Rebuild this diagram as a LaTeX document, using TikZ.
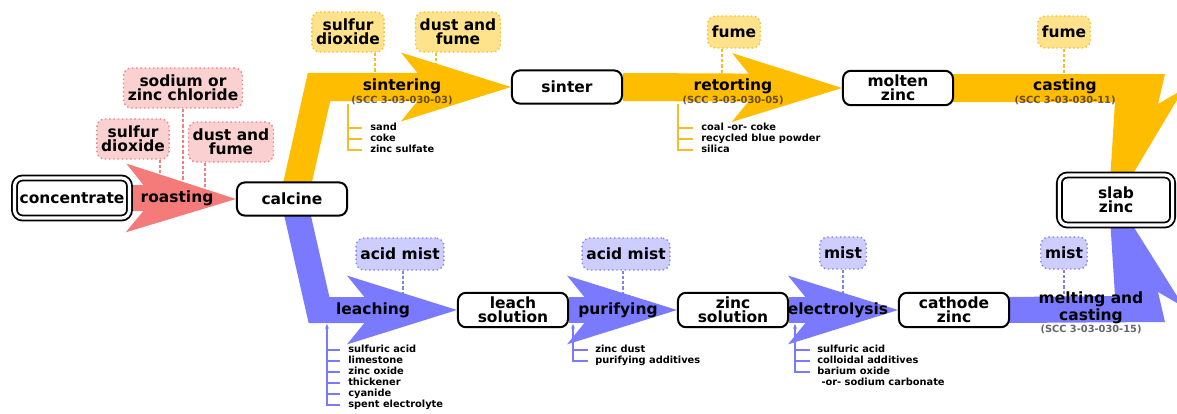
\documentclass[tikz,border=0pt]{standalone}
\usepackage{fontspec}
\setmainfont{DejaVu Sans}
\usepackage{tikz}
\usetikzlibrary{calc}
\usetikzlibrary{positioning}
\usetikzlibrary{arrows.meta}
\usetikzlibrary{backgrounds}
\usepackage{xcolor}
\definecolor{rflowc}{RGB}{245,122,122}
\definecolor{rfillc}{RGB}{250,208,208}
\definecolor{rlinec}{RGB}{238,130,130}
\definecolor{yflowc}{RGB}{255,189,0}
\definecolor{yfillc}{RGB}{255,226,140}
\definecolor{ylinec}{RGB}{245,190,40}
\definecolor{bflowc}{RGB}{122,122,255}
\definecolor{bfillc}{RGB}{205,205,255}
\definecolor{blinec}{RGB}{130,130,235}
\newcommand{\labfont}{\bfseries\fontsize{11}{10}\selectfont}
\newcommand{\listfont}{\bfseries\fontsize{7}{7.8}\selectfont}

\begin{document}
\begin{tikzpicture}[
		x=0.025cm, y=-0.025cm,
		box/.style = {rectangle, rounded corners=0.2cm, draw=black, fill=white, line width=0.05cm, minimum width=2.75cm, minimum height=0.83cm, inner sep=3pt, align=center, font=\labfont},
		dbox/.style = {box, double=white, double distance=0.08cm, line width=0.045cm},
		em/.style = {rectangle, rounded corners=0.2cm, dotted, line width=0.035cm, minimum height=0.8cm, inner xsep=3pt, inner ysep=5pt, align=center, font=\labfont},
		rem/.style = {em, draw=rlinec, fill=rfillc},
		yem/.style = {em, draw=ylinec, fill=yfillc},
		bem/.style = {em, draw=blinec, fill=bfillc},
		lab/.style = {font=\labfont, inner sep=0pt, align=center},
		scc/.style = {font=\listfont, inner sep=0pt, text=black, text opacity=0.6},
		lst/.style = {font=\listfont, inner sep=0pt, align=left, anchor=north west},
		rline/.style = {draw=rlinec, line width=0.05cm, dash pattern=on 0.08cm off 0.05cm},
		yline/.style = {draw=ylinec, line width=0.05cm, dash pattern=on 0.08cm off 0.05cm},
		bline/.style = {draw=blinec, line width=0.05cm, dash pattern=on 0.08cm off 0.05cm},
		yin/.style = {draw=ylinec, line width=0.03cm},
		bin/.style = {draw=bflowc, line width=0.03cm},
		rflow/.style = {draw=rflowc, line width=0.65cm, -{Stealth[length=2.75cm, width=1.72cm, inset=0.7cm, line width=0pt]}},
		yflow/.style = {draw=yflowc, line width=0.7cm, -{Stealth[length=2.75cm, width=1.72cm, inset=0.7cm, line width=0pt]}},
		bflow/.style = {draw=bflowc, line width=0.65cm, -{Stealth[length=2.75cm, width=1.72cm, inset=0.7cm, line width=0pt]}},
		]
		
		\useasboundingbox (0,0) rectangle (1177,414);
		
		% === === Nodes === ===
		\node[dbox, minimum width=2.875cm, minimum height=1cm]	(conc)	at	(72,198)	{concentrate};
		\node[box]	(calcine)	at	(292,199)	{calcine};
		\node[box]	(sinter)	at	(567,87)	{sinter};
		\node[box]	(molten)	at	(898,88)	{molten\\zinc};
		\node[dbox, minimum width=2.83cm, minimum height=1.25cm]	(slab)	at	(1116,200)	{slab\\zinc};
		\node[box]	(leach)	at	(513,310)	{leach\\solution};
		\node[box]	(zincsol)	at	(733,310)	{zinc\\solution};
		\node[box]	(cathode)	at	(954,310)	{cathode\\zinc};
		
		% process labels
		\node[lab]	(roast)	at	(177,198)	{roasting};
		\node[lab]	(sint)	at	(402,86)	{sintering};
		\node[scc]	at	(402,100)	{(SCC 3-03-030-03)};
		\node[lab]	(retort)	at	(733,86)	{retorting};
		\node[scc]	at	(733,100)	{(SCC 3-03-030-05)};
		\node[lab]	(cast)	at	(1065,86)	{casting};
		\node[scc]	at	(1065,100)	{(SCC 3-03-030-11)};
		\node[lab]	(leaching)	at	(373,310)	{leaching};
		\node[lab]	(purify)	at	(618,310)	{purifying};
		\node[lab]	(electro)	at	(838,310)	{electrolysis};
		\node[lab]	(melt)	at	(1091,308)	{melting and\\casting};
		\node[scc]	at	(1091,329)	{(SCC 3-03-030-15)};
		
		% emissions
		\node[rem]	(rso2)	at	(133,139)	{sulfur\\dioxide};
		\node[rem]	(rchl)	at	(183,88)	{sodium or\\zinc chloride};
		\node[rem]	(rdust)	at	(231,142)	{dust and\\fume};
		\node[yem]	(yso2)	at	(348,32)	{sulfur\\dioxide};
		\node[yem]	(ydust)	at	(458,32)	{dust and\\fume};
		\node[yem]	(yfume)	at	(734,32)	{fume};
		\node[yem]	(cfume)	at	(1064,32)	{fume};
		\node[bem]	(lmist)	at	(400,254)	{acid mist};
		\node[bem]	(pmist)	at	(626,254)	{acid mist};
		\node[bem]	(emist)	at	(843,253)	{mist};
		\node[bem]	(mmist)	at	(1064,253)	{mist};
		
		% inputs
		\node[lst]	(sintin)	at	(370,123)	{sand\\coke\\zinc sulfate};
		\node[lst]	(retin)	at	(701,123)	{coal -or- coke\\recycled blue powder\\silica};
		\node[lst]	(leachin)	at	(348,345)	{sulfuric acid\\limestone\\zinc oxide\\thickener\\cyanide\\spent electrolyte};
		\node[lst]	(purin)	at	(595,345)	{zinc dust\\purifying additives};
		\node[lst]	(elecin)	at	(817,345)	{sulfuric acid\\colloidal additives\\barium oxide\\\hspace{3pt}-or- sodium carbonate};
		
		% === === Lines === ===
		\draw[yin]	(348,104) -- (348,150) -- (362,150) (348,128) -- (362,128) (348,139) -- (362,139);
		\draw[yin]	(678,104) -- (678,150) -- (693,150) (678,128) -- (693,128) (678,139) -- (693,139);
		\draw[bin, {Stealth[length=0.12cm, width=0.1cm]}-]	(327,324) -- (327,405) -- (340,405);
		\draw[bin]	(327,350) -- (340,350) (327,361) -- (340,361) (327,372) -- (340,372) (327,383) -- (340,383) (327,394) -- (340,394);
		\draw[bin, {Stealth[length=0.12cm, width=0.1cm]}-]	(573,324) -- (573,361) -- (588,361);
		\draw[bin]	(573,350) -- (588,350);
		\draw[bin, {Stealth[length=0.12cm, width=0.1cm]}-]	(795,324) -- (795,372) -- (810,372);
		\draw[bin]	(795,350) -- (810,350) (795,361) -- (810,361);
		
		\begin{pgfonlayer}{background}
			% emission lines
			\draw[rline]	($(rso2.south)+(27,0)$)	--	+(0,20);
			\draw[rline]	(rchl.south)	--	+(0,80);
			\draw[rline]	($(rdust.south)+(-26,0)$)	--	+(0,30);
			\draw[yline]	($(yso2.south)+(27,0)$)	--	+(0,30);
			\draw[yline]	($(ydust.south)+(-22,0)$)	--	+(0,25);
			\draw[yline]	($(yfume.south)+(-12,0)$)	--	+(0,25);
			\draw[yline]	(cfume.south)	--	+(0,30);
			\draw[bline]	($(lmist.south)+(3,0)$)	--	+(0,30);
			\draw[bline]	($(pmist.south)+(-3,0)$)	--	+(0,30);
			\draw[bline]	(emist.south)	--	+(0,30);
			\draw[bline]	(mmist.south)	--	+(0,30);
			
			% flows
			\coordinate (ycorner) at (319,87);
			\coordinate (bcorner) at (319,310);
			\draw[rflow]	(conc.east)	--	(calcine.west);
			\draw[yflow]	($(calcine.north)+(4,8)$)	--	(ycorner)	--	(sinter.west);
			\draw[yflow]	(sinter.east)	--	(molten.west);
			\fill[yflowc]	($(molten.east)+(-3,-14)$) -- (1165,74) -- (1158,104) -- (1177,93) -- (1177,100) -- ($(slab.north)+(12,8)$) -- ($(slab.north)+(-6,8)$) -- (1115,102) -- ($(molten.east)+(-3,14)$) -- cycle;
			\draw[bflow]	($(calcine.south)+(4,-8)$)	--	(bcorner)	--	(leach.west);
			\draw[bflow]	(leach.east)	--	(zincsol.west);
			\draw[bflow]	(zincsol.east)	--	(cathode.west);
			\fill[bflowc]	($(cathode.east)+(-3,13)$) -- (1165,322) -- (1158,292) -- (1177,303) -- (1177,296) -- ($(slab.south)+(12,-8)$) -- ($(slab.south)+(-6,-8)$) -- (1115,296) -- ($(cathode.east)+(-3,-13)$) -- cycle;
		\end{pgfonlayer}
		
	\end{tikzpicture}
\end{document}
